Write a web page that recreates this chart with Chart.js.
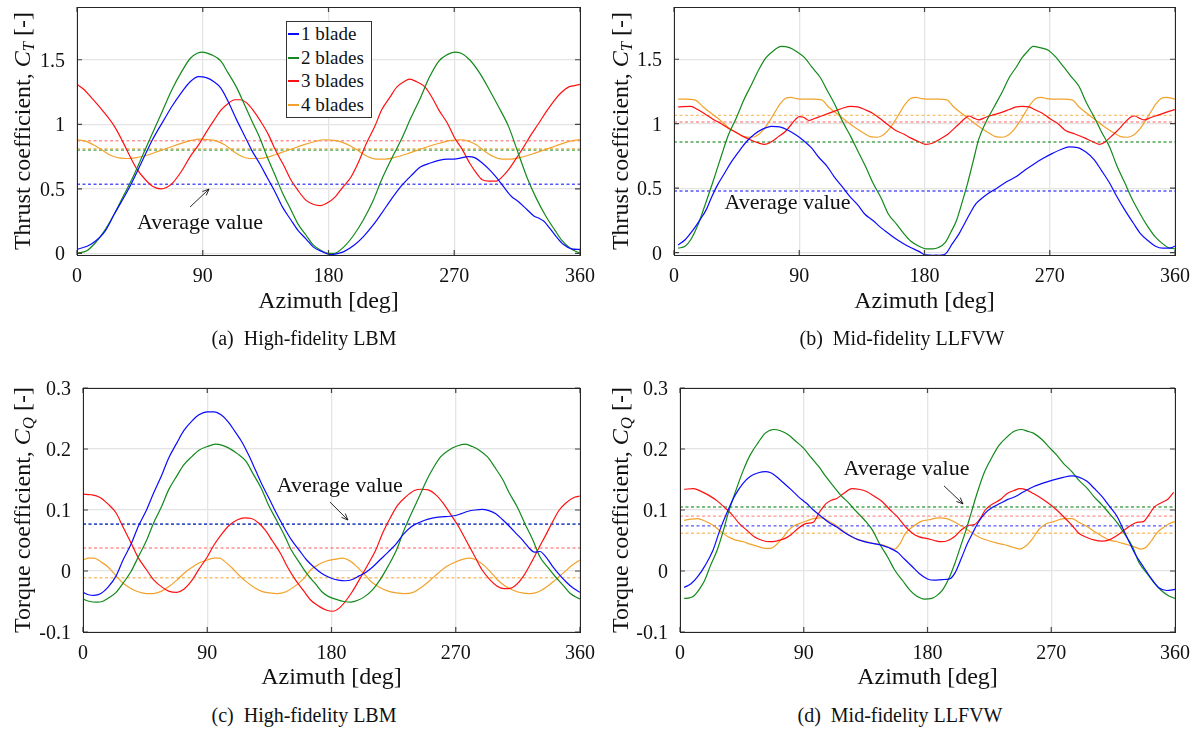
<!DOCTYPE html>
<html>
<head>
<meta charset="utf-8">
<script src="https://cdn.jsdelivr.net/npm/chart.js@4"></script>
<style>
  body { margin: 0; width: 1193px; height: 729px; background: #fff; position: relative; overflow: hidden;
         font-family: "Liberation Serif", "Times New Roman", serif; color: #111; }
  canvas { position: absolute; }
  .lbl { position: absolute; white-space: nowrap; line-height: 1; }
  .tick { font-size: 20px; }
  .xtitle { font-size: 24px; transform: translate(-50%, -50%); }
  .note { font-size: 22px; transform: translate(-50%, -50%); }
  .ytitle { position: absolute; white-space: nowrap; font-size: 24px; line-height: 24px;
            transform: translate(-50%, -50%) rotate(-90deg); }
  .ytitle sub { font-size: 70%; vertical-align: -0.25em; line-height: 0; }
  .caption { position: absolute; white-space: nowrap; font-size: 20px; line-height: 20px; transform: translate(-50%, -50%); }
  .legend { position: absolute; width: 84px; height: 95px; border: 1px solid #333; background: #fff; font-size: 19px; z-index: 2; }
  .legend .row { height: 23.7px; display: flex; align-items: center; white-space: nowrap; }
  .legend .sw { display: inline-block; width: 11px; height: 0; border-top: 2px solid; margin: 0 2px 0 1px; }
</style>
</head>
<body>
<script>
// ---- data: [azimuth deg, value] ----
const seriesNames = ['1 blade', '2 blades', '3 blades', '4 blades'];
const seriesColors = ['#0b0bff', '#12891a', '#ff1010', '#f2a22b'];
const avgColors = ['rgba(30,30,255,0.75)', 'rgba(20,137,26,0.75)', 'rgba(255,60,60,0.55)', 'rgba(242,162,43,0.65)'];
const azimuthTicks = [0, 90, 180, 270, 360];

// (a) thrust, LBM
const ctLbm1 = [[0,0.03],[10,0.07],[20,0.17],[27,0.31],[37,0.5],[46,0.70],[54,0.88],[62,1.03],[68,1.14],[75,1.25],[81,1.33],[87,1.37],[93,1.36],[98,1.33],[103,1.28],[108,1.18],[114,1.04],[120,0.91],[125,0.80],[131,0.69],[136,0.59],[142,0.47],[147,0.36],[153,0.26],[158,0.18],[164,0.11],[169,0.05],[175,0.015],[182,-0.01],[187,0.0],[191,0.013],[198,0.06],[205,0.13],[212,0.22],[218,0.31],[225,0.42],[232,0.52],[239,0.60],[246,0.67],[253,0.70],[259,0.72],[265,0.73],[270,0.73],[275,0.74],[280,0.75],[285,0.74],[290,0.70],[295,0.65],[300,0.59],[305,0.52],[311,0.44],[316,0.40],[322,0.34],[327,0.29],[331,0.27],[334,0.25],[338,0.20],[343,0.13],[348,0.07],[354,0.035],[360,0.03]];
const ctLbm2 = [[0,0.0],[7,0.02],[13,0.08],[20,0.18],[27,0.31],[33,0.44],[40,0.59],[47,0.76],[54,0.93],[61,1.10],[68,1.27],[75,1.41],[81,1.51],[86,1.55],[90,1.56],[96,1.54],[103,1.49],[108,1.40],[114,1.29],[120,1.15],[125,1.03],[131,0.89],[136,0.75],[142,0.60],[147,0.47],[153,0.34],[158,0.23],[164,0.14],[169,0.065],[175,0.02],[180,0.0],[184,0.0],[191,0.05],[198,0.14],[205,0.26],[212,0.41],[218,0.57],[225,0.73],[232,0.88],[239,1.05],[246,1.21],[252,1.36],[259,1.49],[265,1.54],[270,1.56],[275,1.55],[281,1.50],[288,1.40],[295,1.27],[302,1.13],[309,0.98],[315,0.80],[322,0.59],[329,0.42],[336,0.28],[342,0.18],[347,0.10],[353,0.04],[360,0.0]];
const ctLbm3 = [[0,1.31],[5,1.27],[10,1.21],[18,1.11],[27,0.98],[33,0.86],[38,0.75],[43,0.65],[49,0.57],[54,0.52],[60,0.50],[64,0.51],[68,0.54],[75,0.64],[81,0.75],[87,0.84],[92,0.93],[98,1.03],[103,1.11],[108,1.16],[113,1.19],[117,1.19],[121,1.17],[126,1.11],[131,1.03],[137,0.92],[142,0.80],[148,0.68],[153,0.57],[158,0.49],[164,0.41],[169,0.38],[174,0.37],[179,0.39],[185,0.44],[190,0.51],[196,0.59],[202,0.72],[207,0.85],[213,0.98],[218,1.11],[224,1.21],[229,1.29],[234,1.33],[238,1.35],[243,1.33],[249,1.29],[254,1.21],[259,1.11],[265,1.01],[270,0.90],[276,0.80],[281,0.70],[286,0.62],[290,0.57],[295,0.56],[300,0.56],[305,0.60],[309,0.65],[314,0.73],[320,0.83],[325,0.92],[330,1.00],[336,1.10],[342,1.19],[347,1.25],[352,1.29],[356,1.30],[360,1.31]];
const ctLbm4 = [[0,0.88],[6,0.87],[12,0.84],[18,0.80],[24,0.76],[30,0.74],[36,0.735],[42,0.74],[50,0.76],[58,0.79],[66,0.82],[74,0.85],[82,0.875],[88,0.885],[95,0.88],[100,0.87],[106,0.84],[112,0.79],[118,0.75],[124,0.735],[130,0.735],[138,0.75],[146,0.78],[154,0.81],[162,0.84],[170,0.865],[177,0.88],[184,0.875],[190,0.86],[196,0.83],[202,0.79],[208,0.75],[214,0.73],[220,0.73],[228,0.745],[236,0.77],[244,0.80],[252,0.83],[260,0.855],[268,0.875],[274,0.88],[280,0.87],[286,0.84],[292,0.79],[298,0.75],[304,0.73],[310,0.73],[318,0.745],[326,0.77],[334,0.80],[342,0.83],[350,0.86],[356,0.875],[360,0.88]];
const ctLbmAvg = [0.535, 0.80, 0.873, 0.81];

// (b) thrust, LLFVW
const ctVw1 = [[3,0.06],[8,0.10],[14,0.18],[19,0.26],[23,0.33],[27,0.43],[31,0.52],[36,0.61],[41,0.70],[47,0.79],[52,0.86],[58,0.92],[64,0.96],[70,0.98],[76,0.975],[82,0.95],[88,0.91],[93,0.87],[99,0.81],[104,0.74],[110,0.67],[115,0.59],[121,0.51],[126,0.44],[132,0.37],[137,0.30],[143,0.25],[148,0.20],[154,0.15],[159,0.11],[165,0.07],[170,0.04],[176,0.01],[180,-0.015],[186,-0.02],[191,-0.02],[195,-0.01],[200,0.07],[205,0.15],[209,0.23],[213,0.31],[217,0.38],[221,0.42],[226,0.46],[232,0.50],[239,0.55],[246,0.59],[252,0.64],[259,0.69],[265,0.73],[272,0.77],[278,0.80],[284,0.82],[290,0.815],[296,0.78],[302,0.72],[307,0.64],[313,0.54],[318,0.44],[324,0.33],[330,0.23],[335,0.15],[341,0.09],[346,0.05],[351,0.035],[356,0.035],[360,0.05]];
const ctVw2 = [[3,0.035],[8,0.05],[12,0.10],[17,0.21],[22,0.36],[28,0.55],[34,0.75],[39,0.91],[45,1.05],[50,1.18],[56,1.31],[61,1.42],[66,1.51],[72,1.57],[77,1.60],[83,1.59],[88,1.56],[94,1.51],[99,1.44],[105,1.36],[110,1.26],[116,1.14],[121,1.02],[127,0.90],[132,0.79],[138,0.66],[143,0.54],[149,0.42],[154,0.30],[160,0.22],[165,0.15],[170,0.09],[176,0.05],[181,0.03],[186,0.03],[190,0.04],[195,0.08],[199,0.16],[203,0.25],[207,0.39],[211,0.54],[215,0.71],[219,0.88],[224,1.01],[230,1.13],[236,1.25],[241,1.36],[246,1.44],[250,1.51],[254,1.56],[258,1.60],[263,1.59],[269,1.57],[274,1.52],[280,1.44],[285,1.37],[291,1.29],[296,1.17],[302,1.05],[307,0.94],[313,0.82],[318,0.68],[324,0.54],[329,0.42],[335,0.30],[340,0.21],[346,0.12],[350,0.08],[355,0.04],[360,0.03]];
const ctVw3 = [[3,1.13],[12,1.135],[17,1.11],[23,1.07],[28,1.035],[34,1.0],[39,0.965],[45,0.93],[50,0.90],[56,0.87],[61,0.85],[65,0.84],[70,0.86],[75,0.90],[80,0.94],[84,0.99],[87,1.03],[90,1.055],[93,1.05],[97,1.025],[101,1.04],[106,1.06],[111,1.08],[116,1.10],[121,1.12],[127,1.135],[132,1.13],[137,1.11],[143,1.08],[148,1.04],[154,0.99],[159,0.95],[165,0.92],[170,0.89],[176,0.86],[181,0.84],[186,0.85],[191,0.88],[197,0.92],[201,0.96],[205,1.0],[209,1.04],[212,1.06],[215,1.045],[219,1.03],[224,1.05],[230,1.07],[236,1.09],[241,1.11],[246,1.13],[250,1.135],[255,1.13],[259,1.11],[265,1.08],[270,1.04],[276,1.0],[281,0.95],[288,0.92],[295,0.89],[301,0.86],[306,0.84],[310,0.86],[314,0.90],[319,0.95],[324,1.01],[328,1.05],[331,1.06],[335,1.04],[338,1.03],[343,1.05],[349,1.07],[354,1.09],[360,1.11]];
const ctVw4 = [[3,1.19],[8,1.19],[15,1.185],[21,1.13],[28,1.07],[34,1.02],[39,0.97],[45,0.93],[50,0.90],[56,0.895],[60,0.91],[64,0.95],[68,1.01],[72,1.08],[76,1.15],[80,1.195],[84,1.205],[88,1.195],[94,1.19],[100,1.19],[106,1.185],[111,1.13],[118,1.07],[124,1.02],[130,0.97],[136,0.93],[141,0.90],[146,0.895],[150,0.91],[154,0.95],[158,1.01],[162,1.08],[166,1.15],[170,1.195],[174,1.205],[178,1.195],[184,1.19],[190,1.19],[196,1.185],[201,1.13],[208,1.07],[214,1.02],[220,0.97],[226,0.93],[231,0.90],[236,0.895],[240,0.91],[244,0.95],[248,1.01],[252,1.08],[256,1.15],[260,1.195],[264,1.205],[268,1.195],[274,1.19],[280,1.19],[286,1.185],[291,1.13],[298,1.07],[304,1.02],[310,0.97],[316,0.93],[321,0.90],[326,0.895],[330,0.91],[334,0.95],[338,1.01],[342,1.08],[346,1.15],[350,1.195],[354,1.205],[360,1.19]];
const ctVwAvg = [0.478, 0.858, 1.013, 1.065];

// (c) torque, LBM
const cqLbm1 = [[0,-0.035],[4,-0.039],[8,-0.040],[13,-0.037],[18,-0.027],[24,-0.008],[29,0.018],[35,0.045],[40,0.073],[46,0.10],[51,0.127],[57,0.157],[62,0.185],[68,0.21],[73,0.23],[79,0.246],[84,0.256],[90,0.261],[95,0.261],[100,0.256],[105,0.245],[110,0.229],[115,0.212],[120,0.19],[125,0.165],[130,0.14],[135,0.118],[140,0.095],[146,0.07],[151,0.051],[157,0.033],[162,0.018],[168,0.005],[173,-0.004],[179,-0.011],[185,-0.015],[190,-0.016],[195,-0.014],[200,-0.008],[205,-0.002],[210,0.007],[215,0.018],[221,0.031],[227,0.045],[232,0.06],[238,0.073],[244,0.08],[250,0.085],[256,0.088],[262,0.089],[270,0.091],[274,0.094],[279,0.098],[284,0.100],[289,0.101],[294,0.099],[299,0.094],[304,0.084],[309,0.073],[314,0.061],[319,0.049],[323,0.038],[327,0.031],[331,0.032],[335,0.024],[340,0.008],[345,-0.006],[350,-0.018],[355,-0.028],[360,-0.035]];
const cqLbm2 = [[0,-0.046],[5,-0.050],[10,-0.051],[14,-0.050],[18,-0.045],[24,-0.035],[29,-0.02],[35,0.0],[40,0.023],[46,0.05],[51,0.078],[57,0.106],[62,0.133],[68,0.156],[73,0.174],[79,0.188],[84,0.198],[90,0.204],[96,0.208],[101,0.206],[106,0.201],[112,0.192],[118,0.18],[123,0.16],[129,0.136],[134,0.11],[140,0.084],[146,0.058],[151,0.034],[157,0.013],[162,-0.004],[168,-0.02],[173,-0.034],[178,-0.042],[184,-0.047],[189,-0.05],[194,-0.051],[199,-0.048],[204,-0.042],[210,-0.03],[215,-0.015],[221,0.008],[227,0.034],[232,0.064],[238,0.095],[244,0.124],[249,0.149],[254,0.17],[259,0.187],[265,0.198],[270,0.204],[277,0.208],[282,0.204],[287,0.198],[293,0.187],[298,0.171],[304,0.15],[309,0.127],[315,0.103],[320,0.078],[326,0.05],[331,0.023],[337,0.005],[342,-0.009],[348,-0.024],[353,-0.037],[360,-0.046]];
const cqLbm3 = [[0,0.126],[6,0.125],[12,0.121],[18,0.11],[24,0.095],[29,0.072],[35,0.045],[40,0.022],[46,0.002],[51,-0.014],[57,-0.026],[62,-0.033],[68,-0.035],[73,-0.03],[79,-0.015],[84,0.003],[90,0.023],[95,0.043],[101,0.062],[106,0.075],[112,0.084],[117,0.087],[122,0.086],[127,0.079],[132,0.067],[137,0.05],[143,0.029],[148,0.007],[154,-0.015],[160,-0.033],[165,-0.048],[171,-0.058],[176,-0.064],[181,-0.066],[186,-0.06],[190,-0.05],[195,-0.034],[200,-0.015],[206,0.009],[212,0.034],[217,0.062],[223,0.089],[228,0.108],[234,0.122],[240,0.132],[245,0.134],[250,0.133],[256,0.124],[261,0.111],[266,0.094],[272,0.073],[278,0.048],[284,0.023],[289,0.002],[295,-0.015],[300,-0.025],[305,-0.029],[310,-0.028],[315,-0.02],[320,-0.005],[325,0.015],[330,0.037],[335,0.058],[340,0.08],[345,0.1],[350,0.112],[356,0.121],[360,0.123]];
const cqLbm4 = [[0,0.018],[4,0.021],[8,0.021],[13,0.015],[18,0.007],[24,-0.008],[29,-0.02],[35,-0.029],[40,-0.034],[46,-0.037],[51,-0.037],[57,-0.033],[62,-0.026],[68,-0.015],[73,-0.004],[79,0.006],[84,0.013],[90,0.018],[95,0.021],[99,0.021],[103,0.015],[108,0.005],[113,-0.007],[118,-0.017],[124,-0.027],[129,-0.033],[135,-0.036],[141,-0.037],[147,-0.034],[154,-0.024],[160,-0.012],[165,0.002],[171,0.011],[176,0.016],[182,0.019],[188,0.021],[193,0.017],[198,0.008],[204,-0.006],[209,-0.018],[215,-0.027],[221,-0.033],[227,-0.036],[233,-0.037],[239,-0.035],[245,-0.027],[251,-0.016],[257,-0.004],[263,0.007],[269,0.014],[275,0.019],[280,0.021],[285,0.018],[290,0.01],[295,-0.001],[300,-0.014],[306,-0.025],[312,-0.032],[318,-0.036],[324,-0.037],[330,-0.034],[336,-0.026],[342,-0.015],[348,-0.003],[354,0.009],[360,0.018]];
const cqLbmAvg = [0.077, 0.0765, 0.0377, -0.011];

// (d) torque, LLFVW
const cqVw1 = [[3,-0.027],[8,-0.021],[13,-0.009],[18,0.008],[24,0.034],[29,0.067],[35,0.10],[40,0.124],[46,0.144],[51,0.155],[57,0.161],[62,0.163],[66,0.161],[70,0.155],[75,0.145],[81,0.133],[86,0.122],[92,0.111],[97,0.1],[103,0.089],[108,0.08],[114,0.072],[119,0.064],[125,0.056],[130,0.051],[136,0.047],[141,0.045],[147,0.042],[152,0.038],[158,0.031],[163,0.02],[169,0.007],[174,-0.004],[180,-0.013],[185,-0.015],[191,-0.014],[196,-0.013],[200,-0.003],[205,0.023],[209,0.045],[213,0.063],[217,0.08],[222,0.095],[227,0.104],[233,0.111],[238,0.117],[244,0.122],[250,0.13],[257,0.138],[264,0.144],[271,0.149],[278,0.153],[285,0.156],[290,0.154],[296,0.147],[301,0.136],[307,0.122],[312,0.107],[318,0.089],[322,0.07],[326,0.051],[331,0.028],[337,0.007],[342,-0.01],[348,-0.027],[354,-0.032],[360,-0.03]];
const cqVw2 = [[3,-0.045],[7,-0.044],[10,-0.041],[14,-0.03],[18,-0.015],[22,0.008],[27,0.034],[31,0.062],[35,0.094],[40,0.128],[46,0.165],[51,0.19],[57,0.211],[62,0.226],[68,0.232],[73,0.23],[79,0.223],[84,0.213],[90,0.201],[95,0.187],[101,0.171],[106,0.155],[112,0.138],[117,0.124],[123,0.111],[128,0.098],[134,0.084],[140,0.067],[145,0.045],[151,0.023],[156,0.002],[162,-0.016],[167,-0.031],[172,-0.041],[178,-0.046],[183,-0.045],[187,-0.04],[191,-0.031],[196,-0.01],[200,0.013],[204,0.04],[208,0.067],[212,0.097],[216,0.127],[221,0.16],[227,0.187],[232,0.206],[238,0.22],[243,0.229],[248,0.232],[253,0.229],[257,0.226],[263,0.216],[268,0.204],[274,0.19],[279,0.176],[285,0.163],[290,0.149],[296,0.136],[301,0.122],[307,0.108],[312,0.095],[318,0.079],[323,0.062],[329,0.04],[334,0.013],[340,-0.005],[345,-0.02],[350,-0.032],[355,-0.04],[360,-0.045]];
const cqVw3 = [[3,0.134],[10,0.135],[15,0.131],[21,0.124],[27,0.115],[32,0.105],[38,0.092],[43,0.078],[49,0.066],[54,0.056],[60,0.05],[65,0.048],[70,0.049],[76,0.053],[81,0.06],[86,0.07],[92,0.078],[97,0.08],[101,0.095],[106,0.11],[110,0.116],[114,0.119],[119,0.127],[125,0.135],[130,0.134],[136,0.13],[141,0.123],[147,0.114],[152,0.102],[158,0.089],[163,0.075],[169,0.062],[174,0.056],[180,0.053],[185,0.05],[190,0.048],[195,0.05],[200,0.057],[205,0.068],[210,0.075],[214,0.076],[218,0.085],[222,0.1],[226,0.108],[230,0.113],[234,0.119],[238,0.127],[243,0.132],[247,0.135],[252,0.133],[257,0.127],[263,0.119],[268,0.111],[274,0.1],[279,0.089],[285,0.075],[290,0.062],[296,0.055],[301,0.051],[307,0.049],[312,0.051],[317,0.057],[322,0.065],[328,0.075],[333,0.08],[337,0.081],[341,0.092],[345,0.105],[350,0.112],[355,0.118],[359,0.129]];
const cqVw4 = [[3,0.083],[8,0.085],[13,0.086],[18,0.082],[24,0.075],[29,0.066],[35,0.056],[40,0.051],[46,0.048],[51,0.044],[57,0.04],[62,0.037],[66,0.037],[70,0.043],[75,0.055],[79,0.067],[83,0.074],[87,0.078],[92,0.082],[97,0.086],[103,0.087],[108,0.082],[114,0.074],[119,0.065],[125,0.056],[130,0.051],[136,0.048],[141,0.045],[147,0.043],[152,0.039],[156,0.036],[160,0.045],[164,0.062],[169,0.072],[175,0.081],[181,0.084],[188,0.087],[194,0.086],[200,0.08],[206,0.072],[212,0.063],[218,0.055],[224,0.05],[230,0.046],[236,0.043],[242,0.039],[247,0.036],[251,0.04],[256,0.052],[261,0.068],[266,0.077],[272,0.081],[279,0.086],[285,0.086],[290,0.08],[296,0.073],[301,0.065],[307,0.057],[312,0.051],[318,0.048],[324,0.044],[330,0.04],[335,0.036],[339,0.039],[343,0.05],[347,0.063],[352,0.072],[356,0.078],[360,0.081]];
const cqVwAvg = [0.074, 0.105, 0.090, 0.062];

// MATLAB-ish box and inward tick marks
const framePlugin = {
  id: 'frame',
  afterDraw(chart) {
    const { ctx, chartArea: a, scales } = chart;
    ctx.save();
    ctx.strokeStyle = '#444';
    ctx.lineWidth = 1.2;
    ctx.beginPath();
    scales.x.ticks.forEach(t => {
      const px = scales.x.getPixelForValue(t.value);
      ctx.moveTo(px, a.bottom); ctx.lineTo(px, a.bottom - 5);
      ctx.moveTo(px, a.top); ctx.lineTo(px, a.top + 5);
    });
    scales.y.ticks.forEach(t => {
      const py = scales.y.getPixelForValue(t.value);
      ctx.moveTo(a.left, py); ctx.lineTo(a.left + 5, py);
      ctx.moveTo(a.right, py); ctx.lineTo(a.right - 5, py);
    });
    ctx.stroke();
    ctx.strokeStyle = '#262626';
    ctx.lineWidth = 1;
    ctx.strokeRect(Math.round(a.left) + 0.5, Math.round(a.top) + 0.5, Math.round(a.right - a.left), Math.round(a.bottom - a.top));
    ctx.restore();
  }
};

// arrow of the "Average value" note, in data units
const arrowPlugin = {
  id: 'arrow',
  afterDatasetsDraw(chart, args, opts) {
    if (!opts || !opts.arrow) return;
    const { ctx, scales: { x, y } } = chart;
    const [x0, y0, x1, y1] = opts.arrow;
    const ax = x.getPixelForValue(x0), ay = y.getPixelForValue(y0);
    const bx = x.getPixelForValue(x1), by = y.getPixelForValue(y1);
    const ang = Math.atan2(by - ay, bx - ax);
    ctx.save();
    ctx.strokeStyle = '#111';
    ctx.lineWidth = 0.9;
    ctx.beginPath();
    ctx.moveTo(ax, ay); ctx.lineTo(bx, by);
    ctx.moveTo(bx - 7 * Math.cos(ang - 0.4), by - 7 * Math.sin(ang - 0.4));
    ctx.lineTo(bx, by);
    ctx.lineTo(bx - 7 * Math.cos(ang + 0.4), by - 7 * Math.sin(ang + 0.4));
    ctx.stroke();
    ctx.restore();
  }
};

const panels = [
  { series: [ctLbm1, ctLbm2, ctLbm3, ctLbm4], avg: ctLbmAvg, yMin: -0.013, yMax: 1.909, yStep: 0.5,
    canvas: [0, 0, 600, 325], area: [77, 7, 580, 255], titleY: 300,
    note: { text: 'Average value', x: 88, y: 0.243, arrow: [80.9, 0.359, 94.5, 0.498] },
    ytitle: ['Thrust coefficient, ', 'T', 22, 131], caption: ['(a)', 'High-fidelity LBM', 304, 338] },
  { series: [ctVw1, ctVw2, ctVw3, ctVw4], avg: ctVwAvg, yMin: -0.018, yMax: 1.905, yStep: 0.5,
    canvas: [600, 0, 593, 325], area: [674, 7, 1175, 255], titleY: 300,
    note: { text: 'Average value', x: 81.6, y: 0.393 },
    ytitle: ['Thrust coefficient, ', 'T', 620, 131], caption: ['(b)', 'Mid-fidelity LLFVW', 902, 338] },
  { series: [cqLbm1, cqLbm2, cqLbm3, cqLbm4], avg: cqLbmAvg, yMin: -0.1, yMax: 0.3, yStep: 0.1,
    canvas: [0, 375, 600, 325], area: [83, 388, 580, 632], titleY: 676,
    note: { text: 'Average value', x: 186, y: 0.141, arrow: [178.9, 0.113, 191.9, 0.0836] },
    ytitle: ['Torque coefficient, ', 'Q', 22, 510], caption: ['(c)', 'High-fidelity LBM', 304, 715] },
  { series: [cqVw1, cqVw2, cqVw3, cqVw4], avg: cqVwAvg, yMin: -0.1, yMax: 0.3, yStep: 0.1,
    canvas: [600, 375, 593, 325], area: [680, 388, 1175, 632], titleY: 676,
    note: { text: 'Average value', x: 164.7, y: 0.169, arrow: [192, 0.1395, 205.8, 0.11] },
    ytitle: ['Torque coefficient, ', 'Q', 620, 510], caption: ['(d)', 'Mid-fidelity LLFVW', 900, 715] }
];

function addLabel(cls, text, left, top, transform) {
  const d = document.createElement('div');
  d.className = 'lbl ' + cls;
  d.style.left = left + 'px';
  d.style.top = top + 'px';
  if (transform) d.style.transform = transform;
  d.innerHTML = text;
  document.body.appendChild(d);
  return d;
}

function makePanel(p) {
  const [cx, cy, cw, ch] = p.canvas;
  const [al, at, ar, ab] = p.area;
  const cv = document.createElement('canvas');
  cv.width = cw; cv.height = ch;
  cv.style.left = cx + 'px'; cv.style.top = cy + 'px';
  document.body.appendChild(cv);

  const datasets = [];
  p.series.forEach((s, i) => datasets.push({
    data: s.map(([x, y]) => ({ x, y })),
    borderColor: seriesColors[i], borderWidth: 1.2,
    pointRadius: 0, fill: false, cubicInterpolationMode: 'monotone'
  }));
  p.avg.forEach((v, i) => datasets.push({
    data: [{ x: azimuthTicks[0], y: v }, { x: azimuthTicks[azimuthTicks.length - 1], y: v }],
    borderColor: avgColors[i], borderWidth: 1.4, borderDash: [3, 2.5],
    pointRadius: 0, fill: false
  }));

  // tick text is placed as page text below, so the scales only lay out and grid
  const chart = new Chart(cv, {
    type: 'line',
    data: { datasets },
    options: {
      responsive: false, animation: false, events: [],
      layout: { autoPadding: false, padding: { left: 0, top: at - cy, right: cx + cw - ar, bottom: 0 } },
      plugins: { legend: { display: false }, tooltip: { enabled: false }, arrow: p.note },
      scales: {
        x: {
          type: 'linear', min: azimuthTicks[0], max: azimuthTicks[azimuthTicks.length - 1],
          afterBuildTicks: s => { s.ticks = azimuthTicks.map(v => ({ value: v })); },
          ticks: { display: false },
          grid: { color: '#e4e4e4', lineWidth: 1.3, drawTicks: false },
          border: { display: false },
          afterFit: s => { s.height = ch - (ab - cy); s.paddingLeft = 0; s.paddingRight = 0; }
        },
        y: {
          type: 'linear', min: p.yMin, max: p.yMax,
          ticks: { display: false, stepSize: p.yStep, includeBounds: false },
          grid: { color: '#e4e4e4', lineWidth: 1.3, drawTicks: false },
          border: { display: false },
          afterFit: s => { s.width = al - cx; s.paddingTop = 0; s.paddingBottom = 0; }
        }
      }
    },
    plugins: [framePlugin, arrowPlugin]
  });

  const fmt = v => String(Number(v.toFixed(3)));
  const xs = chart.scales.x, ys = chart.scales.y, a = chart.chartArea;
  xs.ticks.forEach(t => {
    addLabel('tick', fmt(t.value), cx + xs.getPixelForValue(t.value), cy + a.bottom + 20, 'translate(-50%, -50%)');
  });
  ys.ticks.forEach(t => {
    addLabel('tick', fmt(t.value), cx + a.left - 12, cy + ys.getPixelForValue(t.value), 'translate(-100%, -50%)');
  });
  addLabel('xtitle', 'Azimuth [deg]', cx + (a.left + a.right) / 2, p.titleY);
  addLabel('note', p.note.text, cx + xs.getPixelForValue(p.note.x), cy + ys.getPixelForValue(p.note.y));

  const yt = document.createElement('div');
  yt.className = 'ytitle';
  yt.style.left = p.ytitle[2] + 'px'; yt.style.top = p.ytitle[3] + 'px';
  yt.innerHTML = p.ytitle[0] + '<i>C<sub>' + p.ytitle[1] + '</sub></i> [-]';
  document.body.appendChild(yt);

  const cap = document.createElement('div');
  cap.className = 'caption';
  cap.style.left = p.caption[2] + 'px'; cap.style.top = p.caption[3] + 'px';
  cap.innerHTML = p.caption[0] + '&nbsp; ' + p.caption[1];
  document.body.appendChild(cap);
}

function drawLegend() {
  const lg = document.createElement('div');
  lg.className = 'legend';
  lg.style.left = '286px'; lg.style.top = '21px';
  seriesNames.forEach((name, i) => {
    const row = document.createElement('div');
    row.className = 'row';
    row.innerHTML = '<span class="sw" style="border-color:' + seriesColors[i] + '"></span>' + name;
    lg.appendChild(row);
  });
  document.body.appendChild(lg);
}

panels.forEach(makePanel);
drawLegend();
</script>
</body>
</html>
